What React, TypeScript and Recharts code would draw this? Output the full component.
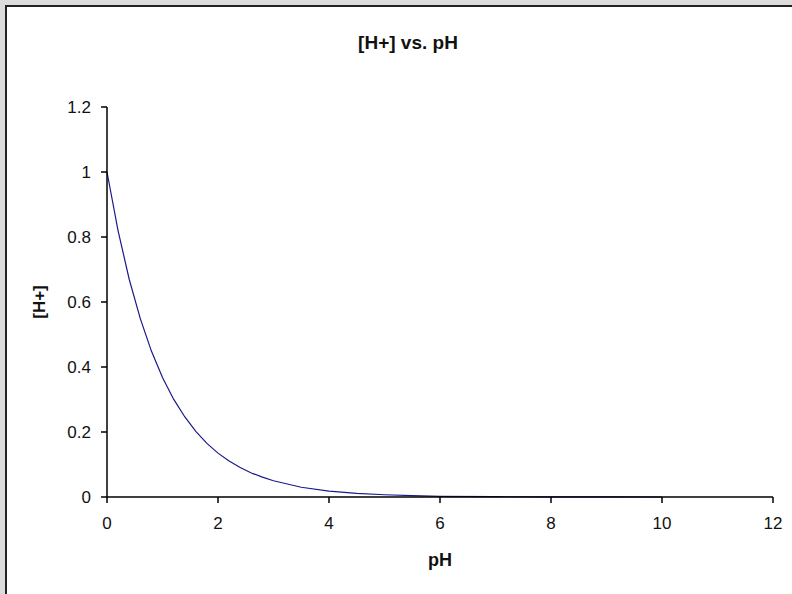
import React from 'react';
import { LineChart, Line, XAxis, YAxis, Label } from 'recharts';

// pH values along the curve
const phValues = [0, 0.2, 0.4, 0.6, 0.8, 1, 1.2, 1.4, 1.6, 1.8, 2, 2.2, 2.4, 2.6, 2.8, 3, 3.5, 4, 4.5, 5, 5.5, 6, 7, 8, 9, 10];
// [H+]
const hValues = [1, 0.819, 0.67, 0.549, 0.449, 0.368, 0.301, 0.247, 0.202, 0.165, 0.135, 0.111, 0.091, 0.074, 0.061, 0.05, 0.03, 0.018, 0.011, 0.007, 0.004, 0.002, 0.001, 0.0003, 0.0001, 0.00005];

const xTicks = [0, 2, 4, 6, 8, 10, 12];
const yTicks = [0, 0.2, 0.4, 0.6, 0.8, 1, 1.2];

const data = phValues.map((ph, i) => ({ ph, h: hValues[i] }));

const FONT = '"Liberation Sans", Arial, sans-serif';

const App = () => {
  return (
    <div style={{ position: 'absolute', left: 0, top: 0, width: 792, height: 594, background: '#dcdcdc', overflow: 'hidden', fontFamily: FONT }}>
      {/* white chart area with dark frame on top/left */}
      <div style={{ position: 'absolute', left: 5, top: 5, right: 0, bottom: 0, background: '#fff', borderLeft: '2px solid #222', borderTop: '2px solid #222' }} />

      <div style={{ position: 'absolute', left: 12, top: 32, width: 792, textAlign: 'center', fontSize: 19, fontWeight: 'bold', color: '#111' }}>
        [H+] vs. pH
      </div>

      <div style={{ position: 'absolute', left: 0, top: 0 }}>
        <LineChart width={792} height={594} data={data} margin={{ top: 107, right: 19, bottom: 67, left: 47 }}>
          <XAxis
            type="number"
            dataKey="ph"
            domain={[0, 12]}
            ticks={xTicks}
            height={30}
            stroke="#000"
            strokeWidth={1.5}
            tickSize={6}
            tickMargin={14}
            tick={{ fill: '#111', fontSize: 17, fontFamily: FONT }}
          >
            <Label value="pH" position="bottom" offset={26} style={{ fill: '#111', fontSize: 18, fontWeight: 'bold', fontFamily: FONT }} />
          </XAxis>
          <YAxis
            type="number"
            dataKey="h"
            domain={[0, 1.2]}
            ticks={yTicks}
            width={60}
            stroke="#000"
            strokeWidth={1.5}
            tickSize={6}
            tickMargin={10}
            tick={{ fill: '#111', fontSize: 17, fontFamily: FONT }}
          >
            <Label value="[H+]" angle={-90} position="insideLeft" offset={-8} style={{ fill: '#111', fontSize: 17, fontWeight: 'bold', fontFamily: FONT, textAnchor: 'middle' }} />
          </YAxis>
          <Line type="linear" dataKey="h" stroke="#1a1a8c" strokeWidth={1.2} dot={false} isAnimationActive={false} />
        </LineChart>
      </div>
    </div>
  );
};

export default App;
